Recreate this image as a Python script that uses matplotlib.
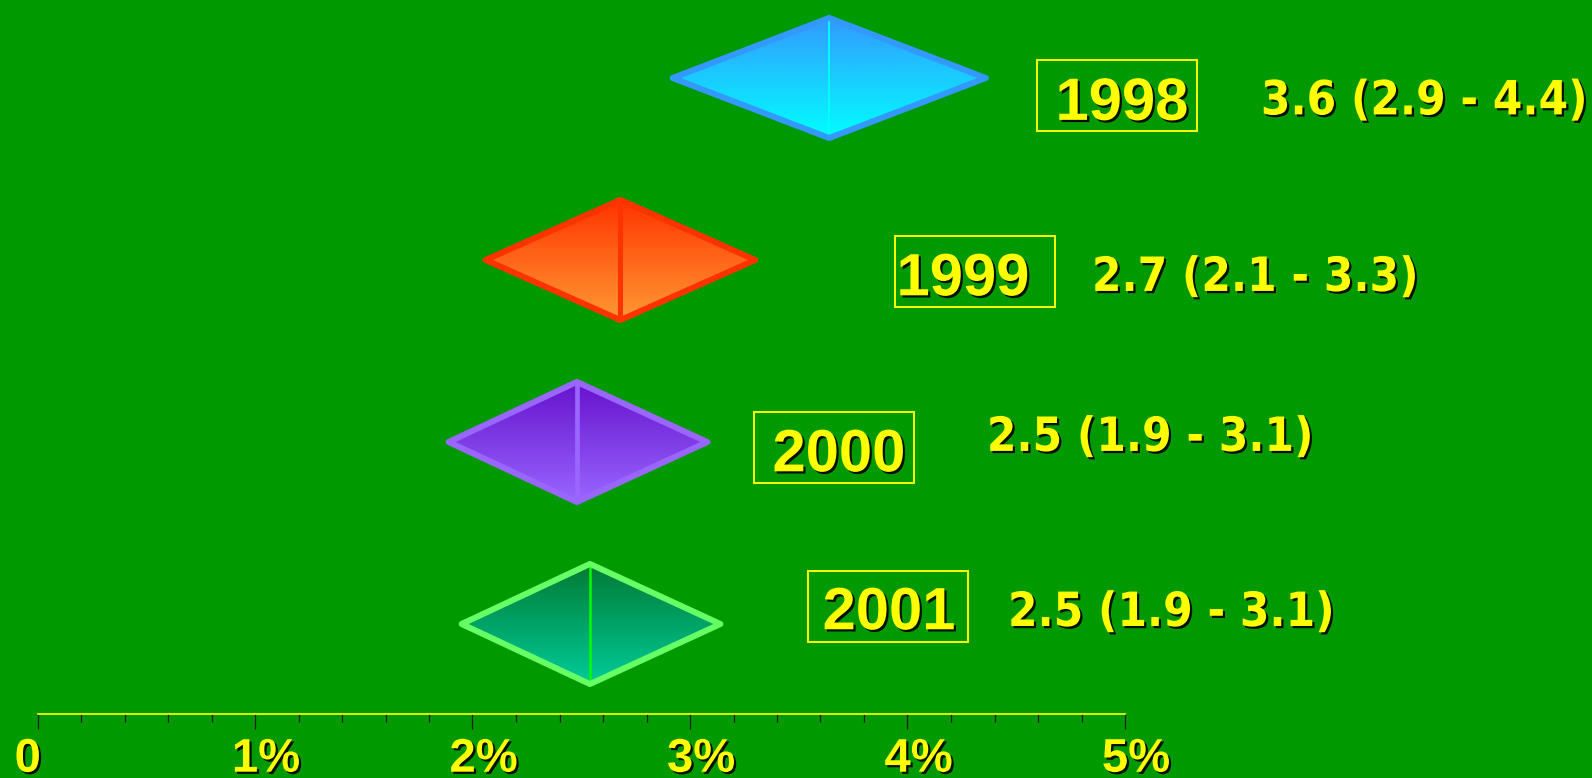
import numpy as np
import matplotlib
matplotlib.use('Agg')
import matplotlib.pyplot as plt
import matplotlib.patheffects as pe
import matplotlib.transforms as mtransforms
from matplotlib.patches import Polygon, Rectangle
from matplotlib.colors import LinearSegmentedColormap
from matplotlib.ticker import FixedLocator

# data (%, estimate and interval)
years = ['1998', '1999', '2000', '2001']
estimate = [3.64, 2.68, 2.48, 2.54]
ci_low = [2.92, 2.06, 1.89, 1.95]
ci_high = [4.36, 3.30, 3.08, 3.14]
value_labels = ['3.6 (2.9 - 4.4)', '2.7 (2.1 - 3.3)', '2.5 (1.9 - 3.1)', '2.5 (1.9 - 3.1)']
tick_values = [0, 1, 2, 3, 4, 5]
tick_labels = ['0', '1%', '2%', '3%', '4%', '5%']
minor_ticks = [k * 0.2 for k in range(26)]

top_colors = ['#3399ff', '#ff3300', '#6612cc', '#007a33']
bottom_colors = ['#00ffff', '#ff9933', '#9966ff', '#00cc99']
edge_colors = ['#3399ff', '#ff3300', '#9966ff', '#66ff66']
mid_colors = ['#00ffff', '#ff3300', '#9966ff', '#00ff00']
mid_widths = [1.4, 3.6, 3.4, 1.8]

# label placement: x in % units, y in row units
box_left = [4.595, 3.943, 3.294, 3.543]
box_mid = [0.096, 1.063, 2.030, 2.904]
year_x = [4.986, 4.255, 3.685, 3.915]
year_y = [0.113, 1.077, 2.044, 2.912]
value_x = [5.625, 4.848, 4.365, 4.462]
value_y = [0.107, 1.077, 1.956, 2.918]
label_shift = [-7, 8, 8, 8, 8, 8]  # points, tick labels sit off-centre in the original

BG = '#009900'
YEL = '#ffff00'
half_h = 0.33
shadow = [pe.withSimplePatchShadow(offset=(1.6, -1.6), shadow_rgbFace='black', alpha=0.9)]

fig = plt.figure(figsize=(15.92, 7.78), dpi=100)
fig.patch.set_facecolor(BG)
ax = fig.add_axes([0, 0, 1, 1])
ax.set_facecolor(BG)

rows = np.arange(len(years))
for i, y in enumerate(rows):
    lo, c, hi = ci_low[i], estimate[i], ci_high[i]
    pts = [(lo, y), (c, y - half_h), (hi, y), (c, y + half_h)]
    clip = Polygon(pts, closed=True, facecolor='none', edgecolor='none')
    ax.add_patch(clip)
    cmap = LinearSegmentedColormap.from_list('g%d' % i, [top_colors[i], bottom_colors[i]])
    grad = np.linspace(0, 1, 256).reshape(-1, 1)
    im = ax.imshow(grad, cmap=cmap, aspect='auto', origin='upper',
                   extent=(lo, hi, y + half_h, y - half_h), zorder=2)
    im.set_clip_path(clip)
    ax.plot([c, c], [y - half_h, y + half_h], color=mid_colors[i], lw=mid_widths[i],
            solid_capstyle='butt', zorder=3)
    ax.add_patch(Polygon(pts, closed=True, fill=False, edgecolor=edge_colors[i],
                         lw=4.3, joinstyle='round', zorder=4))

    ax.add_patch(Rectangle((box_left[i], box_mid[i] - 0.195), 0.7356, 0.39,
                           fill=False, edgecolor=YEL, lw=1.4, zorder=5))
    ax.text(year_x[i], year_y[i] + 0.117, years[i], color=YEL, ha='center', va='baseline',
            fontsize=43, fontweight='bold', family='Liberation Sans',
            path_effects=shadow, zorder=6)
    ax.text(value_x[i], value_y[i] + 0.093, value_labels[i], color=YEL, ha='left', va='baseline',
            fontsize=34, fontweight='bold', fontstretch='condensed', family='DejaVu Sans',
            path_effects=shadow, zorder=6)

ax.set_xlim(-37.5 / 217.5, (1592 - 37.5) / 217.5)
ax.set_ylim((778 - 78) / 182, -78 / 182)

for s in ['top', 'left', 'right']:
    ax.spines[s].set_visible(False)
ax.spines['bottom'].set_position(('data', 3.495))
ax.spines['bottom'].set_bounds(0, 5)
ax.spines['bottom'].set_color(YEL)
ax.spines['bottom'].set_linewidth(1.2)
ax.xaxis.set_major_locator(FixedLocator(tick_values))
ax.xaxis.set_minor_locator(FixedLocator(minor_ticks))
ax.set_xticklabels(tick_labels)
ax.tick_params(axis='x', which='major', length=11, width=0.9, color='#1a1a1a',
               labelcolor=YEL, labelsize=34, pad=6)
ax.tick_params(axis='x', which='minor', length=6, width=0.9, color='#1a1a1a')
ax.tick_params(left=False, labelleft=False)
for lab, dx in zip(ax.get_xticklabels(), label_shift):
    lab.set_fontfamily('Liberation Sans')
    lab.set_fontweight('bold')
    lab.set_path_effects(shadow)
    lab.set_transform(lab.get_transform() +
                      mtransforms.ScaledTranslation(dx / 72, 0, fig.dpi_scale_trans))

fig.savefig('out.png', dpi=100, facecolor=BG)
